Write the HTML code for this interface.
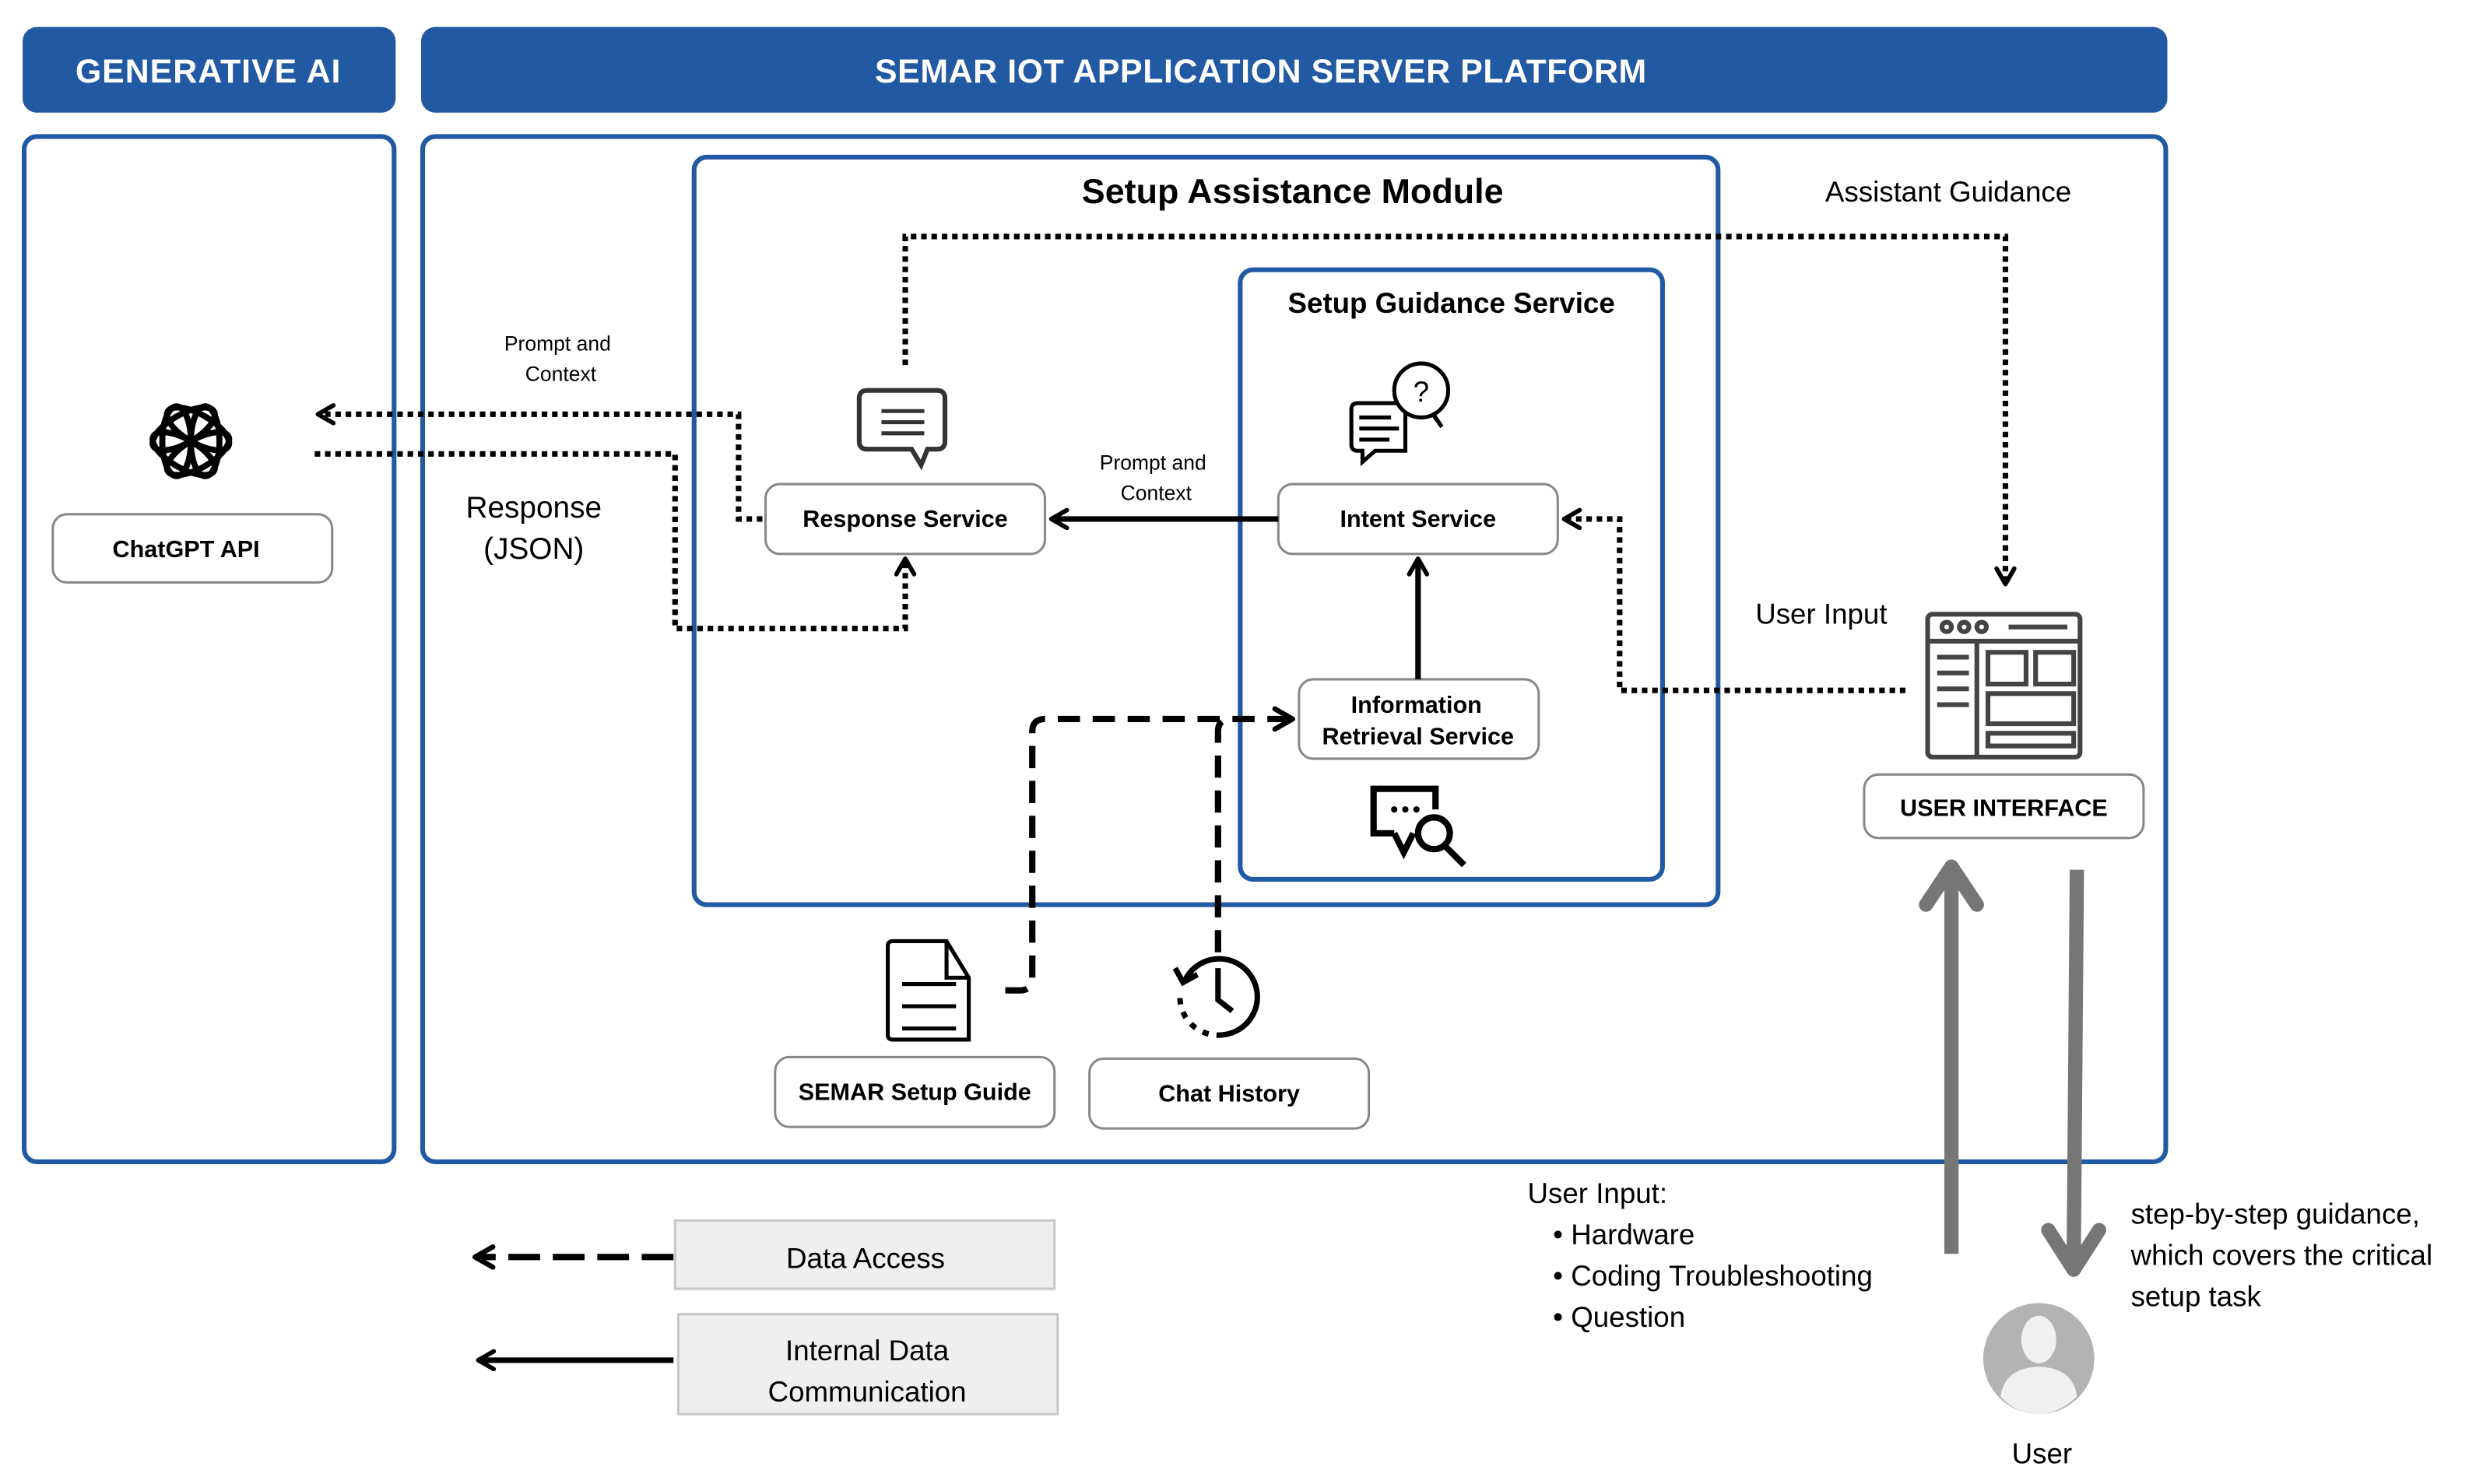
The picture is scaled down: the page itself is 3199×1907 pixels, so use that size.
<!DOCTYPE html>
<html><head><meta charset="utf-8"><style>
html,body{margin:0;padding:0;background:#fff;}
svg{display:block;}
text{font-family:"Liberation Sans",Arial,sans-serif;}
</style></head><body>
<svg width="3199" height="1907" viewBox="0 0 1568 935" xmlns="http://www.w3.org/2000/svg">
<defs>
<marker id="ah" viewBox="0 0 10 10" refX="8" refY="5" markerWidth="4" markerHeight="4" orient="auto-start-reverse" markerUnits="strokeWidth">
<path d="M1,1 L8,5 L1,9" fill="none" stroke="#000" stroke-width="2" stroke-linecap="round" stroke-linejoin="round"/></marker>
</defs>
<rect width="1568" height="935" fill="#fff"/>
<rect x="14" y="17" width="235" height="54" rx="9" fill="#215aa3"/>
<text x="131" y="52" font-size="21" font-weight="bold" fill="#fff" text-anchor="middle" letter-spacing="0.5">GENERATIVE AI</text>
<rect x="265" y="17" width="1100" height="54" rx="9" fill="#215aa3"/>
<text x="794" y="52" font-size="21" font-weight="bold" fill="#fff" text-anchor="middle" letter-spacing="0.3">SEMAR IOT APPLICATION SERVER PLATFORM</text>
<rect x="15" y="86" width="233" height="646" rx="8" fill="none" stroke="#215aa3" stroke-width="3"/>
<rect x="266" y="86" width="1098" height="646" rx="8" fill="none" stroke="#215aa3" stroke-width="3"/>
<rect x="437" y="99" width="645" height="471" rx="8" fill="none" stroke="#215aa3" stroke-width="3"/>
<rect x="781" y="170" width="266" height="384" rx="8" fill="none" stroke="#215aa3" stroke-width="3"/>
<text x="814" y="128" font-size="22" font-weight="bold" text-anchor="middle">Setup Assistance Module</text>
<text x="914" y="197" font-size="18" font-weight="bold" text-anchor="middle">Setup Guidance Service</text>
<text x="1227" y="127" font-size="18" text-anchor="middle">Assistant Guidance</text>
<g transform="translate(120,278)" fill="none" stroke="#000" stroke-width="3.8">
<ellipse rx="9" ry="22" transform="rotate(0) translate(9,0)"/>
<ellipse rx="9" ry="22" transform="rotate(60) translate(9,0)"/>
<ellipse rx="9" ry="22" transform="rotate(120) translate(9,0)"/>
<ellipse rx="9" ry="22" transform="rotate(180) translate(9,0)"/>
<ellipse rx="9" ry="22" transform="rotate(240) translate(9,0)"/>
<ellipse rx="9" ry="22" transform="rotate(300) translate(9,0)"/>
</g>
<g fill="#fff" stroke="#888" stroke-width="1.5">
<rect x="33" y="324" width="176" height="43" rx="9"/>
<rect x="482" y="305" width="176" height="44" rx="9"/>
<rect x="805" y="305" width="176" height="44" rx="9"/>
<rect x="818" y="428" width="151" height="50" rx="9"/>
<rect x="1174" y="488" width="176" height="40" rx="9"/>
<rect x="488" y="666" width="176" height="44" rx="9"/>
<rect x="686" y="667" width="176" height="44" rx="9"/>
</g>
<g font-size="15" font-weight="bold" text-anchor="middle">
<text x="117" y="351">ChatGPT API</text>
<text x="570" y="332">Response Service</text>
<text x="893" y="332">Intent Service</text>
<text x="892" y="449">Information</text>
<text x="893" y="469">Retrieval Service</text>
<text x="1262" y="514">USER INTERFACE</text>
<text x="576" y="693">SEMAR Setup Guide</text>
<text x="774" y="694">Chat History</text>
</g>
<g font-size="13" text-anchor="middle">
<text x="351" y="221">Prompt and</text><text x="353" y="240">Context</text>
<text x="726" y="296">Prompt and</text><text x="728" y="315">Context</text>
</g>
<text x="336" y="326" font-size="19" text-anchor="middle">Response</text>
<text x="336" y="352" font-size="19" text-anchor="middle">(JSON)</text>
<text x="1147" y="393" font-size="18" text-anchor="middle">User Input</text>
<g fill="none" stroke="#000" stroke-width="3.5" stroke-dasharray="3.5 3">
<path d="M480,327 H465 V261 H200" marker-end="url(#ah)"/>
<path d="M198,286 H425 V396 H570 V352" marker-end="url(#ah)"/>
<path d="M570,230 V149 H1263 V368" marker-end="url(#ah)"/>
<path d="M1200,435 H1020 V327 H985" marker-end="url(#ah)"/>
</g>
<g fill="none" stroke="#000" stroke-width="3.5">
<path d="M805,327 H662" marker-end="url(#ah)"/>
<path d="M893,428 V352" marker-end="url(#ah)"/>
<path d="M424,857 H301" marker-end="url(#ah)"/>
</g>
<g fill="none" stroke="#000" stroke-width="4" stroke-dasharray="14 8">
<path d="M633,624 H642 Q650,624 650,616 V461 Q650,453 658,453 H814" marker-end="url(#ah)"/>
<path d="M767,600 V461 Q767,453 775,453"/>
<path d="M424,792 H299" marker-end="url(#ah)" stroke-dasharray="20 8"/>
</g>
<g fill="none" stroke="#333" stroke-width="3">
<path d="M546,246 H590 Q595,246 595,251 V278 Q595,283 590,283 H584 L580,293 L574,283 H546 Q541,283 541,278 V251 Q541,246 546,246 Z"/>
<path d="M555,259 H582 M555,266 H582 M555,273 H582" stroke-width="2.5"/>
</g>
<g fill="none" stroke="#000" stroke-width="2.5">
<path d="M855,254 H885 V284 H866 L858,291 V284 H855 Q851,284 851,280 V258 Q851,254 855,254 Z"/>
<path d="M856,263 H876 M856,270 H881 M856,277 H875"/>
<circle cx="895" cy="246" r="17" fill="#fff"/>
<path d="M902,260 L908,269 L903,262"/>
<text x="895" y="253" font-size="18" stroke="none" fill="#000" text-anchor="middle">?</text>
</g>
<g fill="none" stroke="#000" stroke-width="4">
<path d="M878,525 H865 V497 H904 V510"/>
<path d="M878,525 L884,537 L890,525"/>
<circle cx="903" cy="525" r="10" fill="#fff"/>
<path d="M910,533 L922,545"/>
</g>
<circle cx="878" cy="510" r="2" fill="#000"/><circle cx="885" cy="510" r="2" fill="#000"/><circle cx="892" cy="510" r="2" fill="#000"/>
<g fill="none" stroke="#000" stroke-width="2.5">
<path d="M562,593 H596 L610,616 V655 H562 Q559,655 559,652 V596 Q559,593 562,593 Z"/>
<path d="M596,593 V616 H610"/>
<path d="M568,620 H602 M568,634 H602 M568,648 H602"/>
</g>
<g fill="none" stroke="#000" stroke-width="3.5">
<path d="M746,618 A24,24 0 1 1 770,652"/>
<path d="M770,652 A24,24 0 0 1 743,628" stroke-dasharray="4 5"/>
<path d="M740,610 L745,619 L754,614"/>
<path d="M767,610 V630 L776,637"/>
</g>
<g fill="none" stroke="#444" stroke-width="3">
<rect x="1214" y="387" width="96" height="90" rx="3"/>
<path d="M1214,404 H1310 M1245,404 V477"/>
<circle cx="1226" cy="395" r="3"/><circle cx="1237" cy="395" r="3"/><circle cx="1248" cy="395" r="3"/>
<path d="M1265,395 H1302"/>
<path d="M1220,414 H1240 M1220,424 H1240 M1220,434 H1240 M1220,444 H1240"/>
<rect x="1252" y="411" width="24" height="20"/><rect x="1282" y="411" width="24" height="20"/>
<rect x="1252" y="437" width="54" height="19"/><rect x="1252" y="462" width="54" height="8"/>
</g>
<g fill="none" stroke="#767676" stroke-width="9" stroke-linecap="butt">
<path d="M1229,790 V552"/>
<path d="M1213,570 L1229,546 L1245,570" stroke-linecap="round" stroke-linejoin="round"/>
<path d="M1308,548 L1306,795"/>
<path d="M1290,775 L1306,800 L1322,775" stroke-linecap="round" stroke-linejoin="round"/>
</g>
<g font-size="18">
<text x="962" y="758">User Input:</text>
<text x="978" y="784">• Hardware</text>
<text x="978" y="810">• Coding Troubleshooting</text>
<text x="978" y="836">• Question</text>
<text x="1342" y="771">step-by-step guidance,</text>
<text x="1342" y="797">which covers the critical</text>
<text x="1342" y="823">setup task</text>
<text x="1286" y="922" text-anchor="middle">User</text>
</g>
<circle cx="1284" cy="856" r="35" fill="#b3b3b3"/>
<ellipse cx="1284" cy="844" rx="11" ry="15" fill="#f0f0f0"/>
<path d="M1260,880 Q1262,862 1284,861 Q1306,862 1308,880 Q1296,891 1284,891 Q1270,891 1260,880 Z" fill="#f0f0f0"/>
<rect x="425" y="769" width="239" height="43" fill="#efefef" stroke="#c8c8c8" stroke-width="1.5"/>
<rect x="427" y="828" width="239" height="63" fill="#efefef" stroke="#c8c8c8" stroke-width="1.5"/>
<g font-size="18" text-anchor="middle">
<text x="545" y="799">Data Access</text>
<text x="546" y="857">Internal Data</text>
<text x="546" y="883">Communication</text>
</g>
</svg>
</body></html>
